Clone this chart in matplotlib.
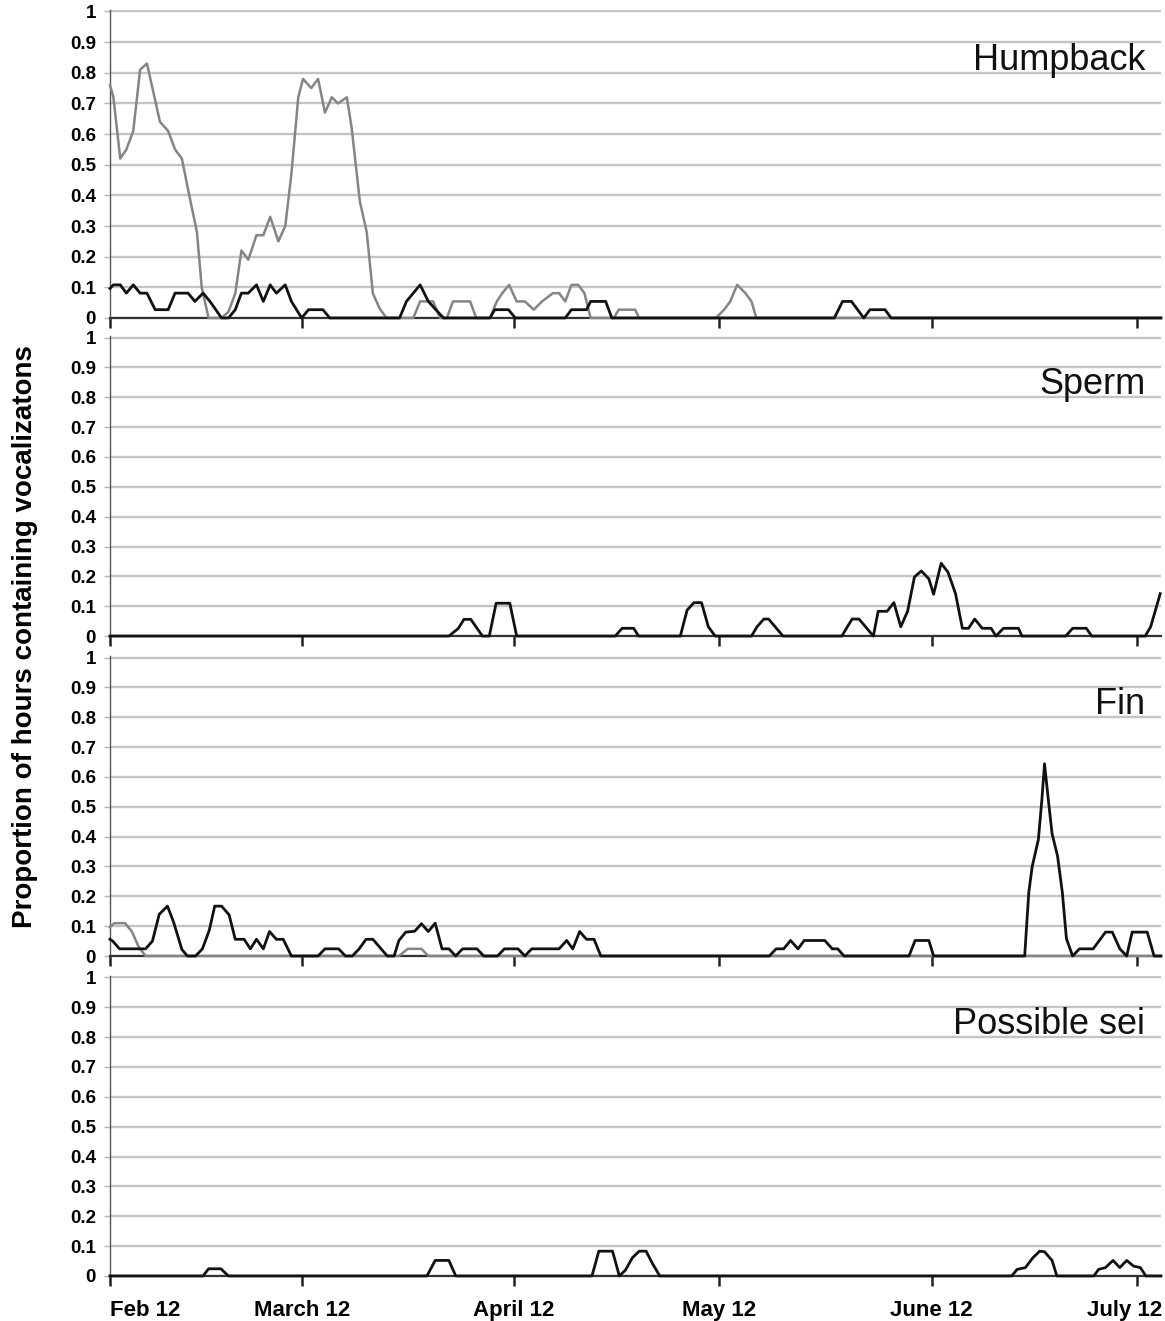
import datetime as dt
import numpy as np
import matplotlib
matplotlib.use("Agg")
import matplotlib.pyplot as plt
from matplotlib.transforms import ScaledTranslation

# x positions are days after Feb 12
start = dt.date(2011, 2, 12)
month_ticks = [dt.date(2011, m, 12) for m in (2, 3, 4, 5, 6, 7)]
tick_days = [(d - start).days for d in month_ticks]
tick_labels = ['Feb 12', 'March 12', 'April 12', 'May 12', 'June 12', 'July 12']
x_end = 153.5

species = ['Humpback', 'Sperm', 'Fin', 'Possible sei']

# Humpback
hump_gray_day = [0, 0.5, 1.5, 2.4, 3.4, 4.4, 5.4, 6.3, 7.3, 8.5, 9.5, 10.5, 11.4, 12.7,
                 13.4, 14.4, 16.3, 17.3, 18.3, 19.2, 20.2, 21.4, 22.4, 23.4, 24.6, 25.6,
                 26.5, 27.5, 28.2, 29.4, 30.4, 31.4, 32.4, 33.3, 34.6, 35.3, 36.5, 37.5,
                 38.4, 39.4, 40.4, 44.3, 45.3, 47.2, 48.2, 49.2, 50.1, 52.6, 53.5, 55.5,
                 56.5, 57.3, 58.3, 59.4, 60.6, 61.9, 63.1, 64.7, 65.6, 66.5, 67.4, 68.4,
                 69.3, 70.2, 73.6, 74.3, 76.7, 77.3, 88.5, 89.7, 90.6, 91.6, 92.8, 93.7,
                 94.4, x_end]
hump_gray_val = [0.76, 0.72, 0.52, 0.55, 0.61, 0.81, 0.83, 0.74, 0.64, 0.61, 0.55, 0.52,
                 0.42, 0.28, 0.10, 0, 0, 0.02, 0.08, 0.22, 0.19, 0.27, 0.27, 0.33, 0.25,
                 0.30, 0.47, 0.72, 0.78, 0.75, 0.78, 0.67, 0.72, 0.70, 0.72, 0.62, 0.38,
                 0.28, 0.08, 0.03, 0, 0, 0.054, 0.054, 0, 0, 0.054, 0.054, 0, 0,
                 0.054, 0.081, 0.108, 0.054, 0.054, 0.027, 0.054, 0.081, 0.081, 0.054,
                 0.108, 0.108, 0.081, 0, 0, 0.027, 0.027, 0, 0, 0.027, 0.054, 0.108,
                 0.081, 0.054, 0, 0]
hump_black_day = [0, 0.5, 1.5, 2.4, 3.4, 4.4, 5.4, 6.6, 8.5, 9.5, 11.4, 12.4, 13.6, 14.6,
                  16.3, 17.3, 18.3, 19.2, 20.2, 21.4, 22.4, 23.4, 24.3, 25.6, 26.5, 28.0,
                  29.0, 31.1, 32.1, 42.3, 43.3, 45.3, 46.5, 48.7, 55.5, 56.2, 58.2, 59.2,
                  66.5, 67.4, 69.6, 70.2, 72.4, 73.3, 105.8, 107.0, 108.3, 110.1, 111.0,
                  113.2, 114.1, x_end]
hump_black_val = [0.096, 0.108, 0.108, 0.081, 0.108, 0.081, 0.081, 0.027, 0.027, 0.081,
                  0.081, 0.054, 0.081, 0.054, 0, 0, 0.027, 0.081, 0.081, 0.108, 0.054,
                  0.108, 0.081, 0.108, 0.054, 0, 0.027, 0.027, 0, 0, 0.054, 0.108, 0.054,
                  0, 0, 0.027, 0.027, 0, 0, 0.027, 0.027, 0.054, 0.054, 0, 0, 0.054,
                  0.054, 0, 0.027, 0.027, 0, 0]

# Sperm
sperm_black_day = [0, 49.5, 50.9, 51.7, 52.7, 54.4, 55.4, 56.4, 58.4, 59.4, 73.8, 74.8,
                   76.5, 77.2, 83.3, 84.3, 85.3, 86.4, 87.4, 88.4, 93.7, 94.5, 95.5, 96.2,
                   98.3, 106.9, 107.7, 108.4, 109.4, 111.5, 112.2, 113.5, 114.5, 115.5,
                   116.5, 117.5, 118.5, 119.6, 120.3, 121.4, 122.4, 123.5, 124.5, 125.4,
                   126.3, 127.4, 128.7, 129.4, 130.5, 132.7, 133.2, 139.6, 140.6, 142.6,
                   143.4, 151.2, 152.0, 153.4]
sperm_black_val = [0, 0, 0.026, 0.056, 0.056, 0, 0, 0.11, 0.11, 0, 0, 0.026, 0.026, 0, 0,
                   0.087, 0.112, 0.112, 0.031, 0, 0, 0.031, 0.057, 0.057, 0, 0, 0.031,
                   0.057, 0.057, 0, 0.083, 0.083, 0.112, 0.031, 0.083, 0.198, 0.218,
                   0.192, 0.14, 0.244, 0.214, 0.142, 0.026, 0.026, 0.057, 0.026, 0.026, 0,
                   0.026, 0.026, 0, 0, 0.026, 0.026, 0, 0, 0.031, 0.142]

# Fin
fin_gray_day = [0, 0.65, 2.2, 3.2, 4.2, 5.2, 42.2, 43.5, 45.5, 46.5, x_end]
fin_gray_val = [0.097, 0.11, 0.11, 0.082, 0.03, 0, 0, 0.024, 0.024, 0, 0]
fin_black_day = [0, 0.4, 1.4, 5.2, 6.2, 7.2, 8.4, 9.3, 10.5, 11.3, 12.5, 13.5, 14.5,
                 15.3, 16.3, 17.4, 18.3, 19.6, 20.5, 21.4, 22.4, 23.3, 24.3, 25.3, 26.5,
                 30.4, 31.4, 33.4, 34.4, 35.4, 36.4, 37.4, 38.4, 40.5, 41.5, 42.2, 43.2,
                 44.5, 45.5, 46.5, 47.5, 48.5, 49.5, 50.5, 51.5, 53.6, 54.6, 56.6, 57.6,
                 59.6, 60.6, 61.6, 65.6, 66.7, 67.6, 68.6, 69.6, 70.7, 71.7, 96.3, 97.3,
                 98.4, 99.4, 100.5, 101.4, 104.4, 105.5, 106.3, 107.2, 116.7, 117.6, 119.6,
                 120.3, 133.6, 134.2, 134.7, 135.6, 136.1, 136.5, 137.0, 137.6, 138.4,
                 139.1, 139.7, 140.6, 141.6, 143.6, 144.7, 145.4, 146.4, 147.5, 148.5,
                 149.3, 151.5, 152.5, x_end]
fin_black_val = [0.056, 0.05, 0.024, 0.024, 0.05, 0.14, 0.167, 0.113, 0.022, 0, 0, 0.024,
                 0.086, 0.167, 0.167, 0.138, 0.056, 0.056, 0.024, 0.056, 0.024, 0.082,
                 0.056, 0.056, 0, 0, 0.024, 0.024, 0, 0, 0.024, 0.056, 0.056, 0, 0,
                 0.052, 0.08, 0.083, 0.108, 0.082, 0.11, 0.024, 0.024, 0, 0.024, 0.024,
                 0, 0, 0.024, 0.024, 0, 0.024, 0.024, 0.052, 0.024, 0.082, 0.056, 0.056,
                 0, 0, 0.024, 0.024, 0.052, 0.024, 0.052, 0.052, 0.024, 0.024, 0, 0,
                 0.052, 0.052, 0, 0, 0.213, 0.30, 0.39, 0.52, 0.644, 0.535, 0.41, 0.335,
                 0.213, 0.058, 0, 0.024, 0.024, 0.058, 0.08, 0.08, 0.024, 0, 0.08, 0.08,
                 0, 0]

# Possible sei
sei_black_day = [0, 13.6, 14.4, 16.2, 17.3, 46.3, 47.5, 49.5, 50.5, 70.4, 71.4, 73.4, 74.4,
                 75.3, 76.3, 77.3, 78.3, 79.3, 80.3, 131.7, 132.5, 133.7, 134.8, 135.8,
                 136.5, 137.6, 138.3, 143.7, 144.4, 145.4, 146.5, 147.5, 148.5, 149.5,
                 150.5, 151.3, x_end]
sei_black_val = [0, 0, 0.024, 0.024, 0, 0, 0.052, 0.052, 0, 0, 0.083, 0.083, 0, 0.02,
                 0.061, 0.083, 0.083, 0.039, 0, 0, 0.022, 0.028, 0.061, 0.083, 0.081,
                 0.052, 0, 0, 0.022, 0.028, 0.052, 0.028, 0.052, 0.033, 0.028, 0, 0]

gray_series = [(hump_gray_day, hump_gray_val), None, (fin_gray_day, fin_gray_val), None]
black_series = [(hump_black_day, hump_black_val), (sperm_black_day, sperm_black_val),
                (fin_black_day, fin_black_val), (sei_black_day, sei_black_val)]

ytick_vals = np.round(np.arange(0, 1.01, 0.1), 1)
ytick_text = ['0' if v == 0 else '1' if v == 1 else f'{v:.1f}' for v in ytick_vals]

plain = ['Liberation Sans', 'DejaVu Sans']

fig = plt.figure(figsize=(11.65, 13.21), dpi=100)

# panel boxes in figure fractions (left, bottom, width, height)
boxes = [
    [0.0944, 0.7593, 0.9021, 0.2332],
    [0.0944, 0.5185, 0.9021, 0.2271],
    [0.0944, 0.2763, 0.9021, 0.2271],
    [0.0944, 0.0341, 0.9021, 0.2271],
]

for i, box in enumerate(boxes):
    ax = fig.add_axes(box)
    ax.set_xlim(0, x_end)
    ax.set_ylim(0, 1.005)

    ax.set_yticks(ytick_vals)
    ax.set_yticklabels(ytick_text, fontfamily=plain, fontweight='bold', fontsize=13.5)
    ax.yaxis.grid(True, color='#c4c4c4', linewidth=1.7)
    ax.set_axisbelow(True)
    ax.tick_params(axis='y', length=4, width=1, color='#b5b5b5', pad=6)

    ax.set_xticks(tick_days)
    ax.tick_params(axis='x', length=7, width=1.8, color='#222222', pad=10)
    if i == len(boxes) - 1:
        ax.set_xticklabels(tick_labels, fontfamily=plain, fontweight='bold', fontsize=16)
        labels = ax.get_xticklabels()
        labels[0].set_ha('left')
        labels[-1].set_transform(labels[-1].get_transform() +
                                 ScaledTranslation(-0.12, 0, fig.dpi_scale_trans))
    else:
        ax.set_xticklabels([])

    for side in ('top', 'right'):
        ax.spines[side].set_visible(False)
    ax.spines['left'].set_color('#555555')
    ax.spines['left'].set_linewidth(1.0)
    ax.spines['bottom'].set_color('#333333')
    ax.spines['bottom'].set_linewidth(1.6)

    if gray_series[i] is not None:
        gx, gy = gray_series[i]
        ax.plot(gx, gy, color='#858585', linewidth=1.8, zorder=3, clip_on=False)
    bx, by = black_series[i]
    ax.plot(bx, by, color='#111111', linewidth=2.0, zorder=4, clip_on=False)

    ax.text(0.985, 0.81, species[i], transform=ax.get_yaxis_transform(),
            ha='right', va='baseline', fontsize=26, fontfamily=plain, color='#111111')

fig.text(0.0215, 0.518, 'Proportion of hours containing vocalizatons', rotation=90,
         ha='center', va='center', fontsize=20, fontweight='bold', fontfamily=plain)

fig.savefig('out.png', dpi=100)
